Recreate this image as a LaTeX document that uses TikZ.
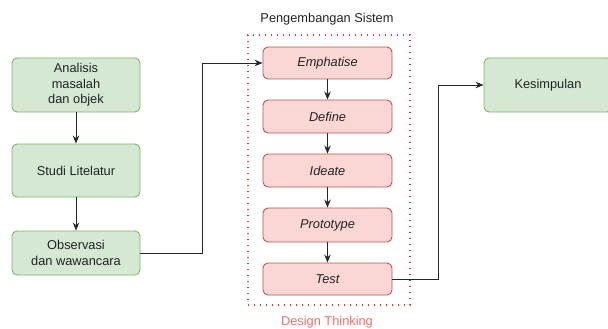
\documentclass[tikz,border=0pt]{standalone}
\usepackage{fontspec}
\setmainfont{Liberation Sans}
\usetikzlibrary{arrows.meta}
\definecolor{gfill}{HTML}{D5E8D4}
\definecolor{gline}{HTML}{82B366}
\definecolor{pfill}{HTML}{FAD7D4}
\definecolor{pline}{HTML}{B85450}
\definecolor{txt}{HTML}{222222}
\definecolor{frame}{HTML}{D9363E}
\definecolor{dtlabel}{HTML}{F26B6B}
\newcommand{\labelfont}{\fontsize{12.8}{15.5}\selectfont}
\tikzset{
  gbox/.style={draw=gline, fill=gfill, line width=0.9pt, rounded corners=5pt,
    text=txt, align=center, inner sep=0pt},
  pbox/.style={draw=pline, fill=pfill, line width=0.9pt, rounded corners=5pt,
    text=txt, align=center, inner sep=0pt, font=\labelfont\itshape},
  conn/.style={draw=black!85, line width=0.9pt, -{Stealth[length=8pt,width=6.5pt]}},
}
\begin{document}
\begin{tikzpicture}[x=1pt, y=-1pt, font=\labelfont]
\clip (0,0) rectangle (608,329);
\useasboundingbox (0,0) rectangle (608,329);

% left column
\node[gbox, minimum width=128pt, minimum height=54pt] (a) at (76,85) {Analisis\\masalah\\dan objek};
\node[gbox, minimum width=128pt, minimum height=53pt] (b) at (76,170.5) {Studi Litelatur};
\node[gbox, minimum width=128pt, minimum height=44pt] (c) at (76,253) {Observasi\\dan wawancara};

% conclusion
\node[gbox, minimum width=128pt, minimum height=54pt] (k) at (548,85) {Kesimpulan};

% design thinking frame
\node[draw=frame, line width=1.4pt, dash pattern=on 1.4pt off 4.6pt,
  minimum width=162pt, minimum height=270pt, inner sep=0pt] (dt) at (329,170) {};
\node[text=txt] (title) at (327,19) {Pengembangan Sistem};
\node[text=dtlabel] (dtl) at (327,322) {Design Thinking};

% design thinking steps
\node[pbox, minimum width=129pt, minimum height=32pt] (e1) at (327.5,63) {Emphatise};
\node[pbox, minimum width=129pt, minimum height=33pt] (e2) at (327.5,116.5) {Define};
\node[pbox, minimum width=129pt, minimum height=33pt] (e3) at (327.5,170.5) {Ideate};
\node[pbox, minimum width=129pt, minimum height=34pt] (e4) at (327.5,225) {Prototype};
\node[pbox, minimum width=129pt, minimum height=32pt] (e5) at (327.5,279) {Test};

% connectors
\draw[conn] (a) -- (b);
\draw[conn] (b) -- (c);
\draw[conn] (c.east) -- (202,253) |- (e1.west);
\draw[conn] (e1) -- (e2);
\draw[conn] (e2) -- (e3);
\draw[conn] (e3) -- (e4);
\draw[conn] (e4) -- (e5);
\draw[conn] (e5.east) -- (438,279) |- (k.west);
\end{tikzpicture}
\end{document}
